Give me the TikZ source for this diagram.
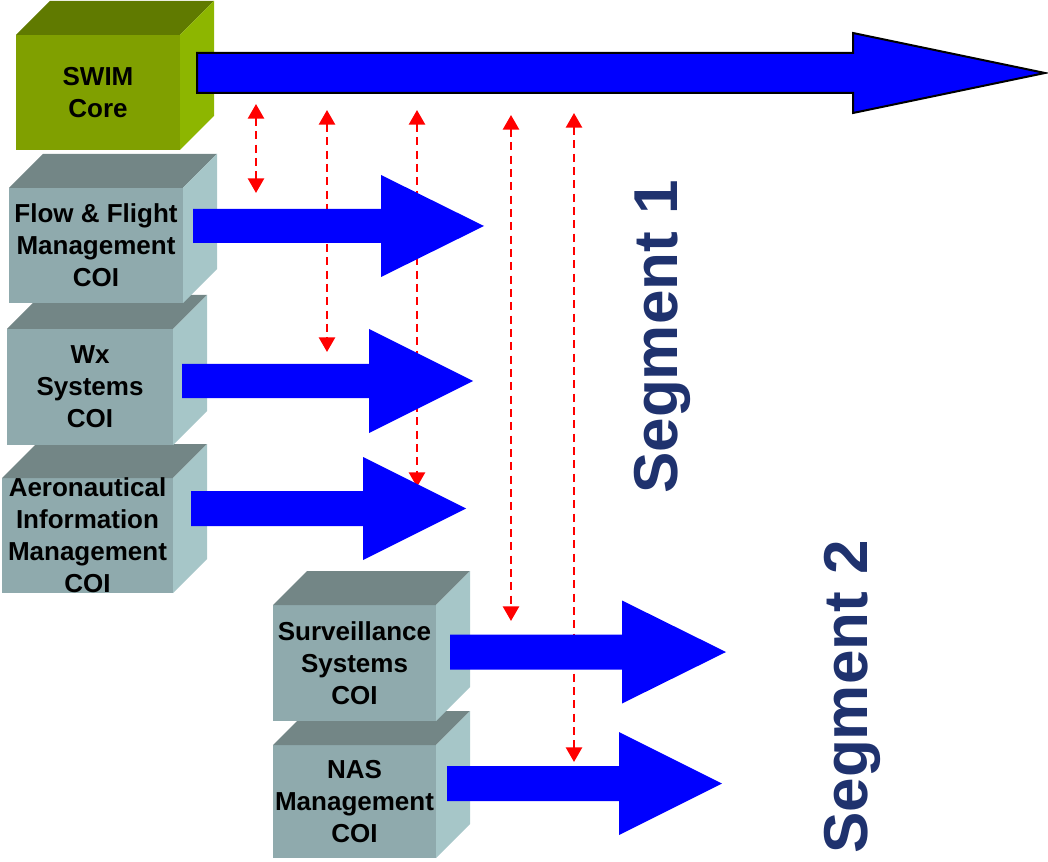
\documentclass[tikz,border=0pt]{standalone}
\usepackage{fontspec}
\setmainfont{Liberation Sans}
\usetikzlibrary{
    arrows.meta,
    calc,
    positioning
}

\definecolor{swimfront}{RGB}{128,160,0}
\definecolor{swimtop}{RGB}{96,122,0}
\definecolor{swimside}{RGB}{141,182,0}
\definecolor{coifront}{RGB}{143,170,173}
\definecolor{coitop}{RGB}{115,134,134}
\definecolor{coiside}{RGB}{166,198,200}
\definecolor{segblue}{RGB}{31,50,110}

\tikzset{
    cubetext/.style={font=\bfseries\fontsize{19.5}{24}\selectfont, align=center, text=black, inner sep=0pt},
    link/.style={red, line width=2pt, dash pattern=on 6pt off 4pt,
        {Triangle[width=12pt,length=11pt]}-{Triangle[width=12pt,length=11pt]}},
    segtext/.style={font=\bfseries\fontsize{46.5}{50}\selectfont, text=segblue, rotate=90, inner sep=0pt}
}

\def\dep{34}
% #1 name, #2 #3 front top left, #4 #5 front bottom right, #6 colour set, #7 text
\newcommand{\cubebox}[7]{
    \fill[#6front] (#2,#3) rectangle (#4,#5);
    \fill[#6top] (#2,#3) -- (#2+\dep,#3-\dep) -- (#4+\dep,#3-\dep) -- (#4,#3) -- cycle;
    \fill[#6side] (#4,#3) -- (#4+\dep,#3-\dep) -- (#4+\dep,#5-\dep) -- (#4,#5) -- cycle;
    \node[cubetext] (#1) at ({(#2+#4)/2},{(#3+#5)/2}) {#7};
}
% [opts] x start, y centre, x head base, x tip, half shaft, half head
\newcommand{\flowarrow}[7][]{
    \fill[blue,#1] (#2,#3-#6) -- (#4,#3-#6) -- (#4,#3-#7) -- (#5,#3)
        -- (#4,#3+#7) -- (#4,#3+#6) -- (#2,#3+#6) -- cycle;
}

\begin{document}
\begin{tikzpicture}[x=0.75pt, y=-0.75pt]
    \useasboundingbox (0,0) rectangle (1048,862);

    \cubebox{nas}{273}{745}{436}{858}{coi}{NAS\\Management\\COI}
    \cubebox{surv}{273}{605}{436}{721}{coi}{Surveillance\\Systems\\COI}
    \cubebox{aero}{2}{478}{173}{593}{coi}{Aeronautical\\Information\\Management\\COI}
    \cubebox{wx}{7}{329}{173}{445}{coi}{Wx\\Systems\\COI}
    \cubebox{flow}{9}{188}{183}{303}{coi}{Flow \& Flight\\Management\\COI}
    \cubebox{swim}{16}{35}{180}{150}{swim}{SWIM\\Core}

    \foreach \n/\x/\ya/\yb in {1/256/104/193, 2/327/110/352, 3/417/110/487, 4/511/115/621, 5/574/113/762} {
        \coordinate (up\n) at (\x,\ya);
        \coordinate (dn\n) at (\x,\yb);
        \draw[link] (up\n) -- (dn\n);
    }

    \flowarrow[draw=black, line width=1.5pt]{197}{73}{853}{1045}{20}{40}
    \flowarrow{193}{226}{381}{484}{17}{51}
    \flowarrow{182}{381}{369}{473}{17}{52}
    \flowarrow{191}{508.5}{363}{466}{17.5}{51.5}
    \flowarrow{450}{652}{622}{726}{17.5}{51.5}
    \flowarrow{447}{783.5}{619}{722}{17.5}{51.5}

    \node[segtext] (seg1) at (662,337) {Segment 1};
    \node[segtext] (seg2) at (852,697) {Segment 2};
\end{tikzpicture}
\end{document}
